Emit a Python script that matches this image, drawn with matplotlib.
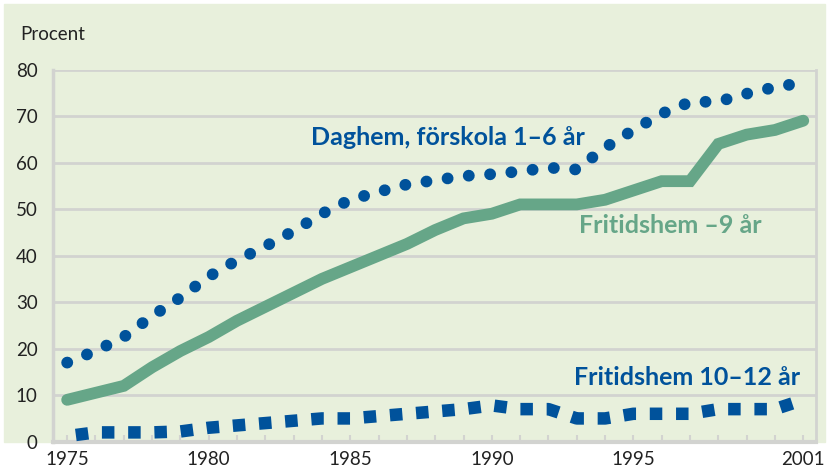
import matplotlib
matplotlib.use("Agg")
import matplotlib.pyplot as plt
from matplotlib.patches import Rectangle

# data
years = list(range(1975, 2002))
daghem = [17, 19.5, 22.5, 27, 31, 35.5, 39, 42, 45.3, 49, 52, 53.7, 55.3, 56.2, 57.1,
          57.5, 58.1, 58.9, 58.5, 63.2, 67, 70.5, 73, 73.1, 74.8, 76.2, 77.2]
fritid9 = [9, 10.5, 12, 16, 19.5, 22.5, 26, 29, 32, 35, 37.5, 40, 42.5, 45.5, 48,
           49, 51, 51, 51, 52, 54, 56, 56, 64, 66, 67, 69]
fritid12 = [1.2, 2, 2, 2, 2.2, 3, 3.5, 4, 4.5, 5, 5, 5.5, 6, 6.5, 7,
            7.8, 7, 7, 5, 5, 6, 6, 6, 7, 7, 7, 9]
ylabels = [0, 10, 20, 30, 40, 50, 60, 70, 80]
xlabels = [1975, 1980, 1985, 1990, 1995, 2001]

blue = '#00529b'
green = '#66a688'
grey = '#d2d3d0'
bg = '#e8f0dc'

plt.rcParams['font.family'] = ['Lato', 'DejaVu Sans']

fig = plt.figure(figsize=(8.28, 4.71), dpi=100)
fig.patches.append(Rectangle((4/828, 1-442/471), 821/828, 438/471,
                             transform=fig.transFigure, color=bg, zorder=-10))
ax = fig.add_axes([53/828, 1-441.7/471, (816-53)/828, (441.7-69.5)/471])
ax.set_facecolor('none')

for y in ylabels[1:]:
    ax.axhline(y, color=grey, lw=2, zorder=1)

ax.plot(years, fritid9, color=green, lw=8.5, solid_capstyle='round',
        solid_joinstyle='miter', zorder=3)
ax.plot(years, daghem, color=blue, lw=8.5, linestyle=(0, (0.01, 1.8)),
        dash_capstyle='round', zorder=4)
ax.plot(years, fritid12, color=blue, lw=9, linestyle=(1.4, (1, 1.1)),
        dash_capstyle='butt', zorder=4)

ax.set_xlim(1974.5, 2001.45)
ax.set_ylim(0, 80)

ax.set_yticks(ylabels)
ax.set_yticklabels([str(v) for v in ylabels])
ax.set_xticks(years)
ax.set_xticklabels([str(y) if y in xlabels else '' for y in years])
ax.tick_params(axis='y', length=0, pad=11, labelsize=13.5, labelcolor='#222222')
ax.tick_params(axis='x', direction='in', length=5, width=1.5, color=grey,
               pad=7, labelsize=13.5, labelcolor='#222222')

for s in ['top']:
    ax.spines[s].set_visible(False)
for s in ['left', 'right', 'bottom']:
    ax.spines[s].set_color(grey)
ax.spines['left'].set_linewidth(2.5)
ax.spines['right'].set_linewidth(2)
ax.spines['bottom'].set_linewidth(3)

fig.text(20/828, 1-35/471, 'Procent', fontsize=13.5, color='#222222',
         ha='left', va='center')

ax.text(1988.45, 65.4, 'Daghem, förskola 1–6 år', color=blue, fontsize=18,
        fontweight='bold', ha='center', va='center')
ax.text(1996.3, 46.5, 'Fritidshem –9 år', color=green, fontsize=18,
        fontweight='bold', ha='center', va='center')
ax.text(1996.9, 13.9, 'Fritidshem 10–12 år', color=blue, fontsize=18,
        fontweight='bold', ha='center', va='center')

fig.savefig('out.png', dpi=100, facecolor='white')
